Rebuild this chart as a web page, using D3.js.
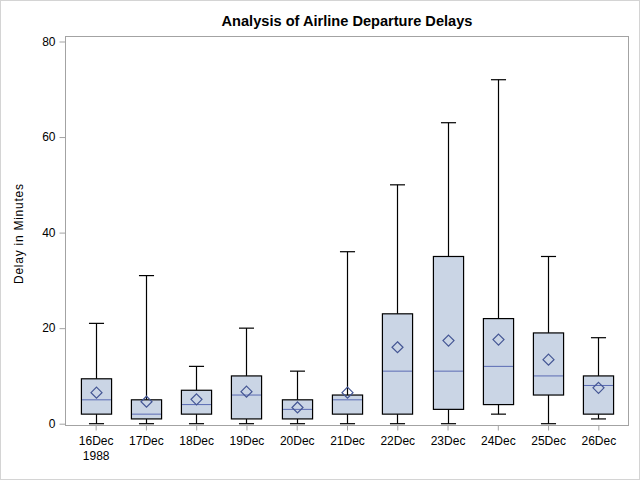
<!DOCTYPE html>
<html>
<head>
<meta charset="utf-8">
<script src="https://cdn.jsdelivr.net/npm/d3@7"></script>
<style>
body { margin: 0; background: #fff; }
svg { display: block; font-family: "Liberation Sans", Arial, sans-serif; }
</style>
</head>
<body>
<svg id="chart" width="640" height="480"></svg>
<script>
const categories = ["16Dec", "17Dec", "18Dec", "19Dec", "20Dec", "21Dec", "22Dec", "23Dec", "24Dec", "25Dec", "26Dec"];
const subLabels = ["1988", "", "", "", "", "", "", "", "", "", ""];
const minVals = [0, 0, 0, 0, 0, 0, 0, 0, 2, 0, 1];
const q1Vals = [2, 1, 2, 1, 1, 2, 2, 3, 4, 6, 2];
const medianVals = [5, 2, 4, 6, 3, 5, 11, 11, 12, 10, 8];
const q3Vals = [9.4, 5, 7, 10, 5, 6, 23, 35, 22, 19, 10];
const maxVals = [21, 31, 12, 20, 11, 36, 50, 63, 72, 35, 18];
const meanVals = [6.5, 4.6, 5.1, 6.7, 3.4, 6.5, 16.0, 17.4, 17.6, 13.4, 7.5];
const yTicks = [0, 20, 40, 60, 80];

const svg = d3.select("#chart");
const W = 640, H = 480;
const frame = { left: 65.5, right: 628.5, top: 36.5, bottom: 425.5 };

// outer border
svg.append("rect").attr("x", 0.5).attr("y", 0.5).attr("width", W - 1).attr("height", H - 1)
  .attr("fill", "#fff").attr("stroke", "#d4d4d4");

const x = d3.scalePoint().domain(categories).range([frame.left, frame.right]).padding(0.6);
const y = d3.scaleLinear().domain([0, 80]).range([423.7, 41.5]);
const step = x.step();
const boxW = step * 0.6;
const capW = boxW * 0.5;

// frame
svg.append("rect").attr("x", frame.left).attr("y", frame.top)
  .attr("width", frame.right - frame.left).attr("height", frame.bottom - frame.top)
  .attr("fill", "none").attr("stroke", "#a3a3a3").attr("stroke-width", 1);

// y axis
const yAxis = d3.axisLeft(y).tickValues(yTicks).tickSize(6).tickPadding(4);
const gy = svg.append("g").attr("transform", `translate(${frame.left},0)`).call(yAxis);
gy.select(".domain").remove();
gy.selectAll(".tick line").attr("stroke", "#a3a3a3");
gy.selectAll(".tick text").attr("fill", "#000").style("font-size", "12px")
  .style("font-family", "'Liberation Sans', Arial, sans-serif");

// x axis
const xAxis = d3.axisBottom(x).tickSize(5).tickPadding(6);
const gx = svg.append("g").attr("transform", `translate(0,${frame.bottom})`).call(xAxis);
gx.select(".domain").remove();
gx.selectAll(".tick line").attr("stroke", "#a3a3a3");
gx.selectAll(".tick text").attr("fill", "#000").style("font-size", "12px")
  .style("font-family", "'Liberation Sans', Arial, sans-serif")
  .each(function(d, i) {
    const t = d3.select(this);
    if (subLabels[i]) {
      t.append("tspan").attr("x", 0).attr("dy", "1.25em").text(subLabels[i]);
    }
  });

// boxes
const data = categories.map((c, i) => ({
  c, min: minVals[i], q1: q1Vals[i], med: medianVals[i], q3: q3Vals[i], max: maxVals[i], mean: meanVals[i]
}));

const g = svg.append("g");
data.forEach(d => {
  const cx = Math.round(x(d.c)) + 0.5;
  g.append("line").attr("x1", cx).attr("x2", cx).attr("y1", y(d.q3)).attr("y2", y(d.max))
    .attr("stroke", "#000").attr("stroke-width", 1.2);
  g.append("line").attr("x1", cx).attr("x2", cx).attr("y1", y(d.q1)).attr("y2", y(d.min))
    .attr("stroke", "#000").attr("stroke-width", 1.2);
  g.append("line").attr("x1", cx - capW / 2).attr("x2", cx + capW / 2).attr("y1", y(d.max)).attr("y2", y(d.max))
    .attr("stroke", "#000").attr("stroke-width", 1.2);
  g.append("line").attr("x1", cx - capW / 2).attr("x2", cx + capW / 2).attr("y1", y(d.min)).attr("y2", y(d.min))
    .attr("stroke", "#000").attr("stroke-width", 1.2);
  g.append("rect").attr("x", cx - boxW / 2).attr("y", y(d.q3))
    .attr("width", boxW).attr("height", y(d.q1) - y(d.q3))
    .attr("fill", "#cad5e5").attr("stroke", "#000").attr("stroke-width", 1.2);
  g.append("line").attr("x1", cx - boxW / 2 + 0.6).attr("x2", cx + boxW / 2 - 0.6)
    .attr("y1", y(d.med)).attr("y2", y(d.med))
    .attr("stroke", "#5a6bb3").attr("stroke-width", 1);
  const my = y(d.mean), r = 5.5;
  g.append("path").attr("d", `M${cx},${my - r}L${cx + r},${my}L${cx},${my + r}L${cx - r},${my}Z`)
    .attr("fill", "none").attr("stroke", "#445694").attr("stroke-width", 1.2);
});

// title
svg.append("text").attr("x", (frame.left + frame.right) / 2).attr("y", 25.5)
  .attr("text-anchor", "middle").style("font-size", "14.6px").style("font-weight", "bold")
  .text("Analysis of Airline Departure Delays");

// y title
svg.append("text").attr("transform", `translate(23,${(frame.top + frame.bottom) / 2 + 3}) rotate(-90)`)
  .attr("text-anchor", "middle").style("font-size", "12px")
  .attr("textLength", 100).attr("lengthAdjust", "spacing")
  .text("Delay in Minutes");
</script>
</body>
</html>
